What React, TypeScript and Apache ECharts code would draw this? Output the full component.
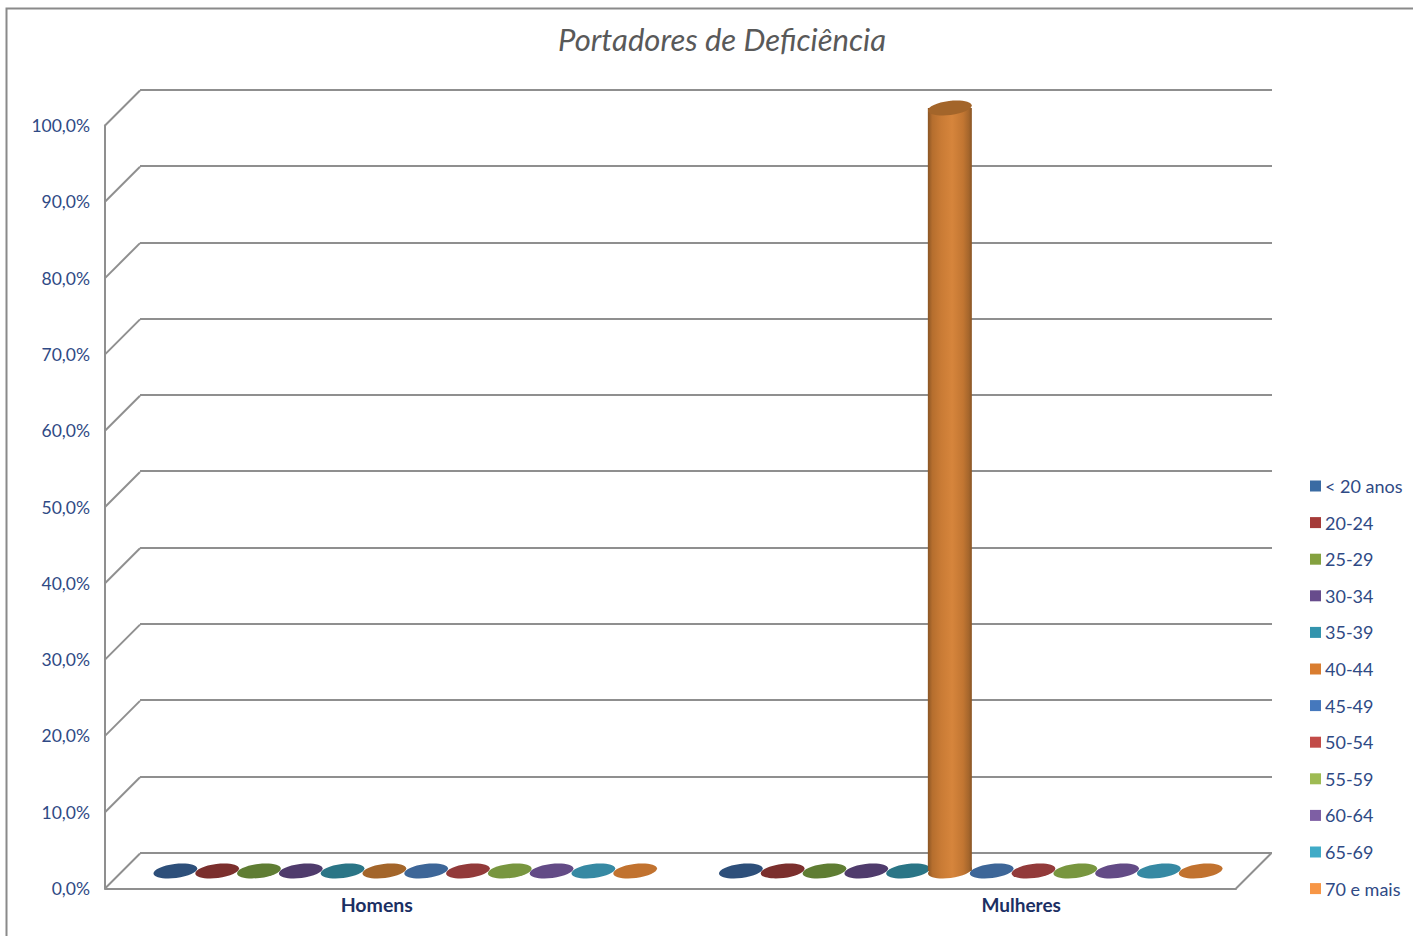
import React, { useEffect, useRef } from "react";
import * as echarts from "echarts";

const title = "Portadores de Deficiência";
const categories = ["Homens", "Mulheres"];
const ageGroups = ["< 20 anos", "20-24", "25-29", "30-34", "35-39", "40-44", "45-49", "50-54", "55-59", "60-64", "65-69", "70 e mais"];
const valuesLt20 = [0, 0];
const values2024 = [0, 0];
const values2529 = [0, 0];
const values3034 = [0, 0];
const values3539 = [0, 0];
const values4044 = [0, 100];
const values4549 = [0, 0];
const values5054 = [0, 0];
const values5559 = [0, 0];
const values6064 = [0, 0];
const values6569 = [0, 0];
const values70 = [0, 0];
const allValues = [valuesLt20, values2024, values2529, values3034, values3539, values4044, values4549, values5054, values5559, values6064, values6569, values70];
const yTicks = [0, 10, 20, 30, 40, 50, 60, 70, 80, 90, 100];
const legendColors = ["#3a6ba3", "#a53a38", "#84a13f", "#674c8c", "#3394ad", "#d97d30", "#4578bd", "#c24b48", "#9ebb53", "#7e5fa4", "#40abc7", "#f79646"];
const capColors = ["#2d4f7a", "#7b2f2d", "#5f7d33", "#4f3b6c", "#2a7586", "#a3652a", "#3d6698", "#923a3a", "#78963f", "#634b86", "#3689a3", "#c1722f"];

const FONT = "Lato";
const DEPTH = 35;
const GRID_LINE = "#8f8f8f";
const BAR_STEP = 41.8;

function cylinder(params: any, api: any) {
  const s = params.seriesIndex;
  const cat = api.value(0);
  const base = api.coord([cat, 0]);
  const top = api.coord([cat, api.value(1)]);
  const cx = base[0] + (s - 5.5) * BAR_STEP + DEPTH / 2;
  const by = base[1] - DEPTH / 2;
  const ty = top[1] - DEPTH / 2;
  const rx = 22;
  const ry = 7;
  const tilt = 0.12;
  const children: any[] = [];
  if (by - ty > 1) {
    const body = new echarts.graphic.LinearGradient(0, 0, 1, 0, [
      { offset: 0, color: "#8a5524" },
      { offset: 0.1, color: "#b56e2e" },
      { offset: 0.3, color: "#c97b35" },
      { offset: 0.55, color: "#d6853c" },
      { offset: 0.8, color: "#c27632" },
      { offset: 0.93, color: "#a5662c" },
      { offset: 1, color: "#8a5524" },
    ]);
    children.push({
      type: "ellipse",
      x: cx,
      y: by,
      rotation: tilt,
      shape: { cx: 0, cy: 0, rx, ry },
      style: { fill: body },
    });
    children.push({
      type: "rect",
      shape: { x: cx - rx, y: ty, width: rx * 2, height: by - ty },
      style: { fill: body },
    });
  }
  children.push({
    type: "ellipse",
    x: cx,
    y: ty,
    rotation: tilt,
    shape: { cx: 0, cy: 0, rx, ry },
    style: { fill: capColors[s] },
  });
  return { type: "group", children };
}

function wallTick(params: any, api: any) {
  const p = api.coord([0, api.value(1)]);
  const x = params.coordSys.x;
  return {
    type: "line",
    shape: { x1: x, y1: p[1], x2: x + DEPTH, y2: p[1] - DEPTH },
    style: { stroke: GRID_LINE, lineWidth: 2 },
  };
}

function floorEdge(params: any, api: any) {
  const p = api.coord([0, api.value(1)]);
  const x = params.coordSys.x + params.coordSys.width;
  return {
    type: "line",
    shape: { x1: x, y1: p[1], x2: x + DEPTH, y2: p[1] - DEPTH },
    style: { stroke: GRID_LINE, lineWidth: 2 },
  };
}

export default function App() {
  const ref = useRef<HTMLDivElement>(null);
  useEffect(() => {
    if (!ref.current) return;
    const chart = echarts.init(ref.current, undefined, { renderer: "svg" });
    chart.setOption({
      animation: false,
      backgroundColor: "#ffffff",
      title: {
        text: title,
        left: 717,
        top: 18,
        textAlign: "center",
        textStyle: { fontFamily: FONT, fontStyle: "italic", fontWeight: "normal", fontSize: 31, color: "#595959" },
      },
      legend: {
        orient: "vertical",
        left: 1310,
        top: 475,
        itemWidth: 11,
        itemHeight: 11,
        itemGap: 14.6,
        padding: 0,
        data: ageGroups.map((name, i) => ({ name, icon: "rect", itemStyle: { color: legendColors[i] } })),
        textStyle: { fontFamily: FONT, fontSize: 18, color: "#2f4a85", padding: [0, 0, 0, -1], lineHeight: 22 },
      },
      grid: [
        { left: 105, top: 125.5, width: 1131, height: 763 },
        { left: 140, top: 89.7, width: 1132, height: 763 },
      ],
      xAxis: [
        {
          type: "category",
          gridIndex: 0,
          data: categories,
          axisTick: { show: false },
          axisLine: { show: true, lineStyle: { color: GRID_LINE, width: 2 } },
          axisLabel: {
            margin: 6,
            interval: 0,
            formatter: (v: string) => (v === categories[0] ? `{a|${v}}` : `{b|${v}}`),
            rich: {
              a: { fontFamily: FONT, fontWeight: "bold", fontSize: 19.5, color: "#1b2f63", padding: [0, 22, 0, 0] },
              b: { fontFamily: FONT, fontWeight: "bold", fontSize: 19, color: "#1b2f63", padding: [0, 0, 0, 136] },
            },
          },
        },
        {
          type: "category",
          gridIndex: 1,
          data: categories,
          axisTick: { show: false },
          axisLine: { show: false },
          axisLabel: { show: false },
        },
      ],
      yAxis: [
        {
          type: "value",
          gridIndex: 0,
          min: 0,
          max: 100,
          interval: 10,
          axisTick: { show: false },
          axisLine: { show: true, lineStyle: { color: GRID_LINE, width: 2 } },
          splitLine: { show: false },
          axisLabel: {
            margin: 15,
            fontFamily: FONT,
            fontSize: 17.5,
            color: "#2f4a85",
            padding: [0, 0, 4, 0],
            formatter: (v: number) => v.toFixed(1).replace(".", ",") + "%",
          },
        },
        {
          type: "value",
          gridIndex: 1,
          min: 0,
          max: 100,
          interval: 10,
          axisTick: { show: false },
          axisLine: { show: false },
          axisLabel: { show: false },
          splitLine: { show: true, lineStyle: { color: GRID_LINE, width: 2 } },
        },
      ],
      graphic: [
        {
          type: "polyline",
          silent: true,
          shape: { points: [[6.5, 936], [6.5, 8.5], [1413, 8.5]] },
          style: { stroke: "#8a8a8a", lineWidth: 2, fill: "none" },
        },
      ],
      series: [
        ...ageGroups.map((name, i) => ({
          type: "custom",
          name,
          xAxisIndex: 0,
          yAxisIndex: 0,
          clip: false,
          z: 5,
          itemStyle: { color: legendColors[i] },
          encode: { x: 0, y: 1 },
          data: allValues[i].map((v, c) => [c, v]),
          renderItem: cylinder,
        })),
        {
          type: "custom",
          name: "wall",
          xAxisIndex: 0,
          yAxisIndex: 0,
          clip: false,
          z: 1,
          encode: { x: 0, y: 1 },
          data: yTicks.map((t) => [0, t]),
          renderItem: wallTick,
        },
        {
          type: "custom",
          name: "floor",
          xAxisIndex: 0,
          yAxisIndex: 0,
          clip: false,
          z: 1,
          encode: { x: 0, y: 1 },
          data: [[0, yTicks[0]]],
          renderItem: floorEdge,
        },
      ],
    });
    return () => chart.dispose();
  }, []);
  return <div ref={ref} style={{ position: "fixed", left: 0, top: 0, width: 1413, height: 936 }} />;
}
